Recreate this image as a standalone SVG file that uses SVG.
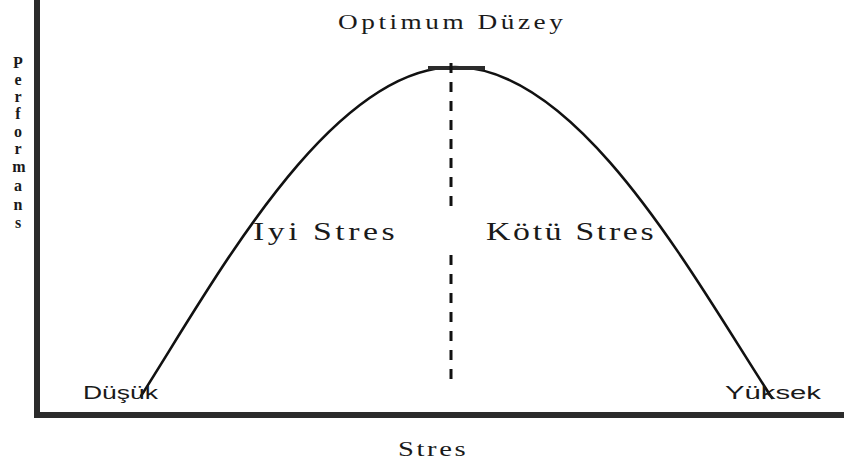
<svg xmlns="http://www.w3.org/2000/svg" width="844" height="466" viewBox="0 0 844 466">
<style>
.axis{stroke:#2b2b2b;stroke-width:6;fill:none}
.curve{stroke:#111;stroke-width:2.6;fill:none;stroke-linecap:round}
.dash{stroke:#111;stroke-width:3;stroke-dasharray:10 9;fill:none}
.serif{font-family:"Liberation Serif","Times New Roman",serif;fill:#1a1a1a}
.sans{font-family:"Liberation Sans",Arial,sans-serif;fill:#1a1a1a}
.vert{font-family:"Liberation Serif","Times New Roman",serif;font-weight:bold;font-size:16px;fill:#1a1a1a;text-anchor:middle}
</style>
<rect width="844" height="466" fill="#fff"/>
<g id="axes">
<line class="axis" x1="37" y1="0" x2="37" y2="418"/>
<line class="axis" x1="34" y1="415" x2="844" y2="415"/>
</g>
<g id="curve">
<path class="curve" d="M141,396 C215,280 330,67 455,67 C580,67 695,280 772,398"/>
</g>
<g id="optimum-marker">
<line x1="428" y1="68" x2="485" y2="68" stroke="#2b2b2b" stroke-width="4"/>
<line class="dash" x1="451" y1="63" x2="451" y2="206"/>
<line class="dash" x1="451" y1="255" x2="451" y2="379"/>
</g>
<g id="labels">
<text class="serif" transform="translate(338,29) scale(1.3,1)" font-size="21" textLength="173" lengthAdjust="spacing">Optimum Düzey</text>
<text class="serif" transform="translate(253,240) scale(1.3,1)" font-size="26" textLength="109" lengthAdjust="spacing">Iyi Stres</text>
<text class="serif" transform="translate(486,240) scale(1.3,1)" font-size="26" textLength="129" lengthAdjust="spacing">Kötü Stres</text>
<text class="serif" transform="translate(398,456) scale(1.3,1)" font-size="22" textLength="52" lengthAdjust="spacing">Stres</text>
<text class="sans" x="83" y="399" font-size="18" textLength="75" lengthAdjust="spacingAndGlyphs">Düşük</text>
<text class="sans" x="725" y="399" font-size="18" textLength="96" lengthAdjust="spacingAndGlyphs">Yüksek</text>
</g>
<g id="y-label">
<text class="vert" x="18" y="68">P</text>
<text class="vert" x="18" y="85">e</text>
<text class="vert" x="18" y="102">r</text>
<text class="vert" x="18" y="119">f</text>
<text class="vert" x="18" y="137">o</text>
<text class="vert" x="18" y="154">r</text>
<text class="vert" x="19" y="172">m</text>
<text class="vert" x="18" y="191">a</text>
<text class="vert" x="18" y="210">n</text>
<text class="vert" x="18" y="228">s</text>
</g>
</svg>
